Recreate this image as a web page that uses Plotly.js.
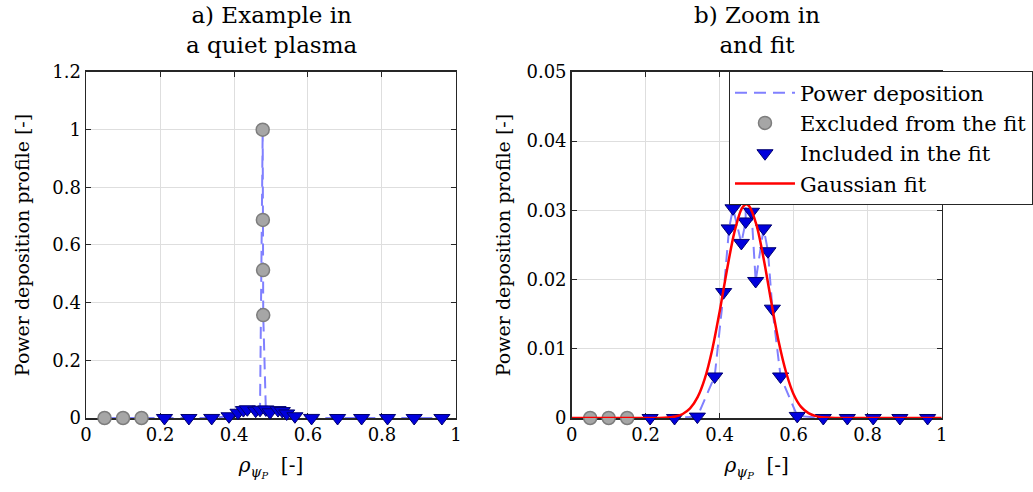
<!DOCTYPE html>
<html><head><meta charset="utf-8">
<script src="https://cdn.plot.ly/plotly-3.0.1.min.js"></script>
<style>html,body{margin:0;padding:0;background:#fff}#chart{width:1033px;height:492px}</style>
</head><body><div id="chart"></div>
<script>
// ---- data ----
const rhoExcludedLow = [0.05, 0.10, 0.15];
const valExcludedLow = [0, 0, 0];
const rhoExcludedPeak = [0.4775, 0.478, 0.4785, 0.479];
const valExcludedPeak = [1.0, 0.687, 0.513, 0.357];
const rhoIncluded = [0.212, 0.278, 0.3397, 0.3865, 0.4108, 0.4254, 0.436, 0.4586, 0.4703, 0.486, 0.4973,
                     0.5189, 0.5305, 0.5424, 0.5646, 0.6097, 0.680, 0.745, 0.815, 0.887, 0.962];
const valIncluded = [0, 0, 0.0002, 0.0060, 0.0182, 0.0274, 0.0303, 0.0253, 0.0284, 0.0298, 0.0198,
                     0.0274, 0.0241, 0.0158, 0.0060, 0.0003, 0, 0, 0, 0, 0];
const rhoFit = [0, 0.2, 0.25, 0.28, 0.30, 0.32, 0.34, 0.36, 0.38, 0.40, 0.42, 0.44, 0.46, 0.472, 0.48,
                0.50, 0.52, 0.54, 0.56, 0.58, 0.60, 0.62, 0.64, 0.66, 0.70, 0.75, 1.0];
const valFit = [0, 0, 0.00004, 0.00022, 0.00058, 0.00138, 0.00297, 0.00573, 0.00991, 0.0154, 0.0215,
                0.0269, 0.0303, 0.0309, 0.0306, 0.0278, 0.0227, 0.0166, 0.0109, 0.0065, 0.0034, 0.0016,
                0.0007, 0.00027, 0.00003, 0, 0];
const xTickVals = [0, 0.2, 0.4, 0.6, 0.8, 1];
const xTickText = ['0', '0.2', '0.4', '0.6', '0.8', '1'];
const yTickValsA = [0, 0.2, 0.4, 0.6, 0.8, 1, 1.2];
const yTickTextA = ['0', '0.2', '0.4', '0.6', '0.8', '1', '1.2'];
const yTickValsB = [0, 0.01, 0.02, 0.03, 0.04, 0.05];
const yTickTextB = ['0', '0.01', '0.02', '0.03', '0.04', '0.05'];
const titleA = 'a) Example in<br>a quiet plasma';
const titleB = 'b) Zoom in<br>and fit';
const yTitle = 'Power deposition profile [-]';
const xTitle = '<i>ρ</i><sub><i>ψ</i><sub><i>P</i></sub></sub>  [-]';
const legendNames = ['Power deposition', 'Excluded from the fit', 'Included in the fit', 'Gaussian fit'];

// ---- derived ----
const rhoExcluded = rhoExcludedLow.concat(rhoExcludedPeak);
const valExcluded = valExcludedLow.concat(valExcludedPeak);
const allPts = rhoExcluded.map((r, i) => [r, valExcluded[i]])
  .concat(rhoIncluded.map((r, i) => [r, valIncluded[i]]))
  .sort((a, b) => a[0] - b[0]);
const rhoAll = allPts.map(p => p[0]);
const valAll = allPts.map(p => p[1]);

const dashStyle = {color: 'rgb(128,128,255)', width: 2, dash: '12px,7px'};
const circMarker = {symbol: 'circle', size: 13, color: 'rgb(166,166,166)', line: {color: 'rgb(125,125,125)', width: 1.5}};
const triMarker = {symbol: 'triangle-down', size: 14, color: 'rgb(0,0,220)', line: {color: 'rgb(0,0,110)', width: 1}};

function traces(xa, ya, legend) {
  const t = [
    {x: rhoAll, y: valAll, mode: 'lines', line: dashStyle, name: legendNames[0], legendgroup: 'g1'},
    {x: rhoExcluded, y: valExcluded, mode: 'markers', marker: circMarker, name: legendNames[1], legendgroup: 'g2', cliponaxis: false},
    {x: rhoIncluded, y: valIncluded, mode: 'markers', marker: triMarker, name: legendNames[2], legendgroup: 'g3', cliponaxis: false}
  ];
  if (legend) t.push({x: rhoFit, y: valFit, mode: 'lines', line: {color: 'rgb(255,0,0)', width: 2.5, shape: 'spline', smoothing: 0.8}, name: legendNames[3], legendgroup: 'g4'});
  t.forEach(tr => { tr.type = 'scatter'; tr.xaxis = xa; tr.yaxis = ya; tr.showlegend = legend; tr.hoverinfo = 'skip'; });
  return t;
}

const data = traces('x', 'y', false).concat(traces('x2', 'y2', true));

const axisBase = {
  ticks: 'inside', ticklen: 5, tickwidth: 1, tickcolor: '#262626',
  showline: true, linecolor: '#262626', linewidth: 1.5, mirror: 'ticks',
  showgrid: true, gridcolor: '#dedede', gridwidth: 1, zeroline: false,
  layer: 'below traces', tickfont: {family: 'DejaVu Serif', size: 18, color: '#000'},
  automargin: false, fixedrange: true
};
const xAx = (dom, anchor) => Object.assign({}, axisBase, {
  domain: dom, anchor: anchor, range: [0, 1], tickvals: xTickVals, ticktext: xTickText,
  title: {text: xTitle, standoff: 14, font: {family: 'DejaVu Serif', size: 20, color: '#000'}}
});
const yAx = (dom, anchor, rng, tv, tt, so) => Object.assign({}, axisBase, {
  domain: dom, anchor: anchor, range: rng, tickvals: tv, ticktext: tt,
  title: {text: yTitle, standoff: so, font: {family: 'DejaVu Serif', size: 19, color: '#000'}}
});

const yDom = [0.1504, 0.8537];
const layout = {
  width: 1033, height: 492, margin: {l: 0, r: 0, t: 0, b: 0},
  paper_bgcolor: '#fff', plot_bgcolor: '#fff',
  font: {family: 'DejaVu Serif', size: 18, color: '#000'},
  xaxis: xAx([0.0833, 0.4414], 'y'),
  yaxis: yAx(yDom, 'x', [0, 1.2], yTickValsA, yTickTextA, 17),
  xaxis2: xAx([0.5534, 0.9116], 'y2'),
  yaxis2: yAx(yDom, 'x2', [0, 0.05], yTickValsB, yTickTextB, 11),
  showlegend: true,
  legend: {x: 0.7057, y: 0.8547, xanchor: 'left', yanchor: 'top', bgcolor: '#fff',
           bordercolor: '#262626', borderwidth: 1, font: {family: 'DejaVu Serif', size: 21, color: '#000'},
           traceorder: 'grouped', tracegroupgap: 0, itemwidth: 60},
  annotations: [
    {text: titleA, xref: 'paper', yref: 'paper', x: 0.2624, y: 1.0, xanchor: 'center', yanchor: 'top',
     showarrow: false, font: {family: 'DejaVu Serif', size: 23, color: '#000'}},
    {text: titleB, xref: 'paper', yref: 'paper', x: 0.7325, y: 1.0, xanchor: 'center', yanchor: 'top',
     showarrow: false, font: {family: 'DejaVu Serif', size: 23, color: '#000'}}
  ]
};

Plotly.newPlot('chart', data, layout, {displayModeBar: false, staticPlot: true});
</script>
</body></html>
